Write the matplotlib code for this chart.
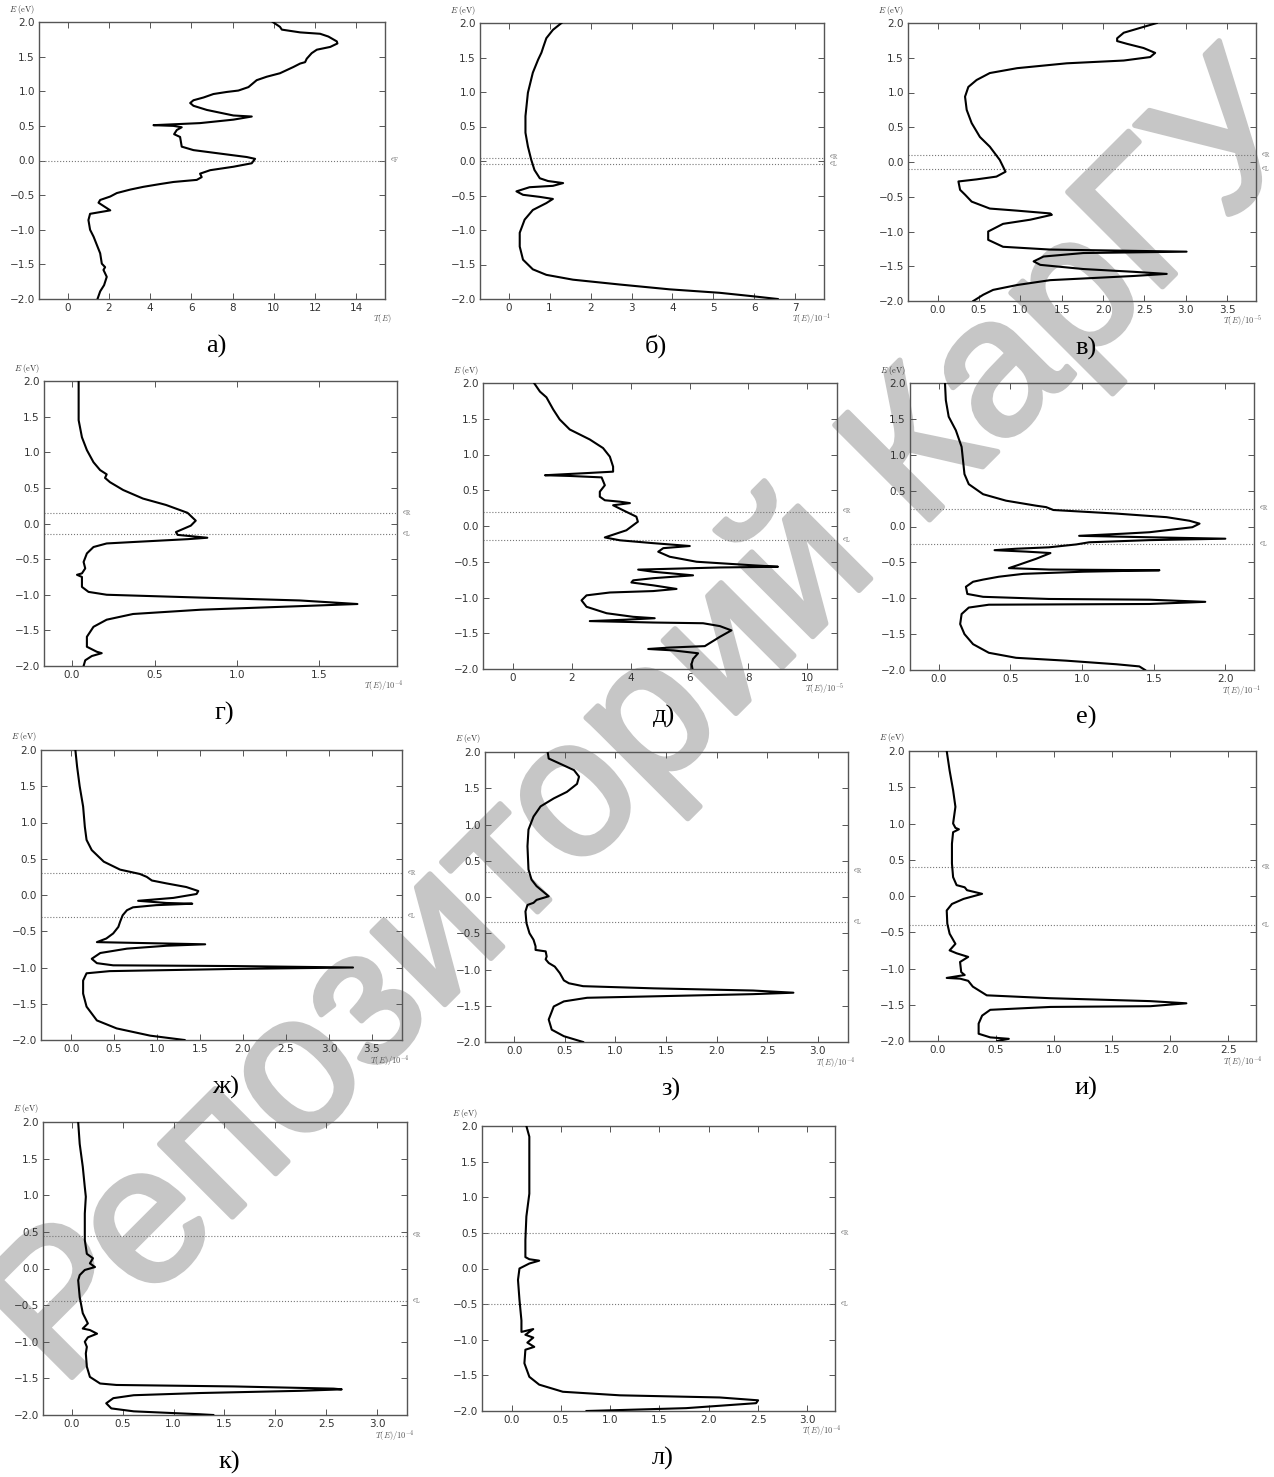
import matplotlib
matplotlib.use("Agg")
import matplotlib.pyplot as plt
import matplotlib.transforms as mtransforms
import matplotlib.patheffects as pe
from matplotlib.ticker import FuncFormatter
import numpy as np

W, H = 1274, 1477
plt.rcParams['mathtext.fontset'] = 'cm'
plt.rcParams['font.family'] = ['DejaVu Sans']

# ---- data: E (eV) and T(E) for each panel ----
# a)
e_a = [2.0, 1.93, 1.89, 1.85, 1.83, 1.79, 1.72, 1.69, 1.64, 1.60, 1.55, 1.47, 1.42, 1.40, 1.35,
       1.26, 1.21, 1.16, 1.06, 1.01, 0.99, 0.96, 0.91, 0.87, 0.83, 0.79, 0.73, 0.65, 0.635, 0.59,
       0.54, 0.51, 0.50, 0.48, 0.44, 0.38, 0.34, 0.27, 0.20, 0.15, 0.10, 0.05, 0.024, -0.04, -0.09,
       -0.14, -0.19, -0.24, -0.28, -0.31, -0.34, -0.38, -0.42, -0.47, -0.52, -0.57, -0.61, -0.72,
       -0.77, -0.86, -1.0, -1.1, -1.22, -1.34, -1.49, -1.54, -1.58, -1.68, -1.80, -1.89, -2.0]
t_a = [9.95, 10.3, 10.39, 11.28, 12.25, 12.65, 13.06, 13.09, 12.74, 12.09, 11.84, 11.6, 11.52, 11.28,
       10.95, 10.3, 9.66, 9.17, 8.77, 8.28, 7.72, 7.07, 6.59, 6.1, 5.94, 6.1, 6.75, 8.04, 8.93, 8.04,
       6.42, 4.16, 5.13, 5.53, 5.29, 5.16, 5.45, 5.49, 5.53, 6.1, 7.39, 8.69, 9.09, 8.93, 8.04,
       6.91, 6.42, 6.5, 6.26, 5.13, 4.48, 3.67, 3.03, 2.38, 2.06, 1.57, 1.49, 2.06,
       1.08, 1.0, 1.08, 1.25, 1.41, 1.57, 1.65, 1.81, 1.73, 1.89, 1.76, 1.57, 1.44]

# б)
e_b = [2.0, 1.90, 1.78, 1.66, 1.57, 1.47, 1.28, 0.99, 0.65, 0.41, 0.21, 0.02, -0.13, -0.25, -0.29,
       -0.32, -0.36, -0.38, -0.44, -0.49, -0.52, -0.55, -0.61, -0.71, -0.85, -1.04, -1.24, -1.43,
       -1.57, -1.65, -1.72, -1.79, -1.86, -1.91, -1.96, -2.0]
t_b = [1.29, 1.08, 0.92, 0.85, 0.80, 0.72, 0.59, 0.47, 0.41, 0.41, 0.47, 0.55, 0.63, 0.76, 0.96,
       1.33, 1.08, 0.51, 0.19, 0.35, 0.76, 1.08, 0.92, 0.59, 0.39, 0.27, 0.27, 0.35,
       0.59, 0.92, 1.57, 2.71, 3.93, 5.15, 5.96, 6.57]

# в)
e_v = [2.0, 1.93, 1.86, 1.78, 1.74, 1.70, 1.64, 1.57, 1.51, 1.46, 1.42, 1.35, 1.28, 1.18, 1.08, 0.94,
       0.75, 0.56, 0.36, 0.22, 0.03, -0.14, -0.21, -0.25, -0.28, -0.40, -0.47, -0.57, -0.67, -0.70,
       -0.74, -0.76, -0.83, -0.89, -1.0, -1.12, -1.22, -1.26, -1.29, -1.31, -1.36, -1.43, -1.48,
       -1.54, -1.58, -1.61, -1.64, -1.70, -1.77, -1.84, -1.91, -2.0]
t_v = [2.65, 2.45, 2.25, 2.17, 2.17, 2.29, 2.49, 2.63, 2.57, 2.25, 1.56, 0.96, 0.63, 0.47, 0.37, 0.33,
       0.35, 0.41, 0.51, 0.63, 0.75, 0.82, 0.71, 0.47, 0.25, 0.27, 0.33, 0.41, 0.63, 0.96,
       1.36, 1.38, 1.12, 0.79, 0.61, 0.61, 0.79, 1.36, 3.01, 1.76, 1.28, 1.16, 1.24,
       1.76, 2.37, 2.77, 2.37, 1.36, 0.96, 0.67, 0.55, 0.43]

# г)
e_g = [2.0, 1.73, 1.45, 1.21, 1.03, 0.86, 0.75, 0.69, 0.64, 0.58, 0.47, 0.35, 0.26, 0.15, 0.04, -0.03,
       -0.12, -0.16, -0.20, -0.22, -0.26, -0.28, -0.33, -0.42, -0.54, -0.63, -0.70, -0.72, -0.75,
       -0.89, -0.96, -1.0, -1.04, -1.08, -1.13, -1.16, -1.21, -1.27, -1.35, -1.45, -1.59, -1.73,
       -1.80, -1.82, -1.86, -1.92, -2.0]
t_g = [0.04, 0.04, 0.04, 0.06, 0.09, 0.13, 0.17, 0.21, 0.20, 0.23, 0.31, 0.43, 0.57, 0.70, 0.75, 0.72,
       0.63, 0.64, 0.82, 0.70, 0.37, 0.21, 0.13, 0.09, 0.07, 0.08, 0.06, 0.03, 0.06,
       0.06, 0.10, 0.21, 0.78, 1.38, 1.73, 1.38, 0.78, 0.37, 0.21, 0.13, 0.09, 0.09,
       0.15, 0.18, 0.12, 0.08, 0.07]

# д)
e_d = [2.0, 1.88, 1.80, 1.63, 1.49, 1.35, 1.21, 1.09, 0.97, 0.83, 0.76, 0.74, 0.71, 0.70, 0.68, 0.57,
       0.48, 0.41, 0.36, 0.34, 0.32, 0.29, 0.22, 0.13, 0.06, -0.06, -0.16, -0.20, -0.24, -0.28,
       -0.31, -0.36, -0.43, -0.50, -0.55, -0.57, -0.58, -0.61, -0.64, -0.69, -0.73, -0.76, -0.79,
       -0.83, -0.88, -0.91, -0.93, -0.97, -1.04, -1.13, -1.22, -1.27, -1.29, -1.31, -1.33, -1.35,
       -1.36, -1.40, -1.46, -1.55, -1.68, -1.70, -1.72, -1.74, -1.78, -1.86, -1.93, -2.0]
t_d = [0.73, 0.93, 1.15, 1.38, 1.60, 1.94, 2.62, 3.07, 3.30, 3.41, 3.41, 2.51, 1.10, 1.94, 3.02, 3.13,
       2.96, 2.96, 3.13, 3.64, 3.98, 3.41, 3.75, 4.20, 4.25, 3.86, 3.13, 3.64, 4.77, 6.01,
       5.11, 4.94, 5.33, 6.24, 8.16, 9.0, 7.03, 4.26, 4.77, 6.12, 4.77, 4.09, 4.03,
       4.77, 5.56, 4.77, 3.30, 2.51, 2.34, 2.51, 3.19, 4.09, 4.82, 3.86, 2.62, 4.77,
       6.46, 7.03, 7.42, 7.03, 6.52, 5.33, 4.60, 5.45, 6.29, 6.12, 6.07, 6.10]

# е)
e_e = [2.0, 1.76, 1.53, 1.34, 1.11, 0.92, 0.73, 0.59, 0.45, 0.36, 0.29, 0.27, 0.23, 0.18, 0.13, 0.08,
       0.04, -0.01, -0.08, -0.10, -0.13, -0.15, -0.17, -0.19, -0.22, -0.25, -0.29, -0.31, -0.33,
       -0.35, -0.37, -0.45, -0.54, -0.58, -0.60, -0.61, -0.63, -0.66, -0.70, -0.74, -0.77, -0.84,
       -0.94, -0.98, -1.01, -1.02, -1.05, -1.08, -1.09, -1.13, -1.22, -1.36, -1.50, -1.64, -1.76,
       -1.83, -1.87, -1.92, -1.95, -2.0]
t_e = [0.044, 0.05, 0.07, 0.12, 0.16, 0.17, 0.18, 0.21, 0.31, 0.47, 0.68, 0.75, 0.80, 1.24, 1.59, 1.75,
       1.82, 1.77, 1.47, 1.29, 0.98, 1.47, 2.0, 1.47, 1.05, 0.96, 0.77, 0.54, 0.39,
       0.61, 0.78, 0.68, 0.55, 0.49, 0.77, 1.54, 1.01, 0.59, 0.42, 0.31, 0.24, 0.19,
       0.20, 0.31, 0.77, 1.47, 1.86, 1.47, 0.35, 0.21, 0.16, 0.15, 0.18, 0.24, 0.35,
       0.54, 0.89, 1.24, 1.40, 1.44]

# ж)
e_zh = [2.0, 1.77, 1.50, 1.22, 0.94, 0.76, 0.62, 0.46, 0.35, 0.29, 0.25, 0.20, 0.16, 0.11, 0.055, 0.014,
        -0.04, -0.08, -0.11, -0.12, -0.14, -0.17, -0.21, -0.28, -0.37, -0.44, -0.53, -0.60, -0.65,
        -0.66, -0.68, -0.70, -0.74, -0.80, -0.88, -0.94, -0.97, -0.98, -1.0, -1.02, -1.05, -1.08,
        -1.18, -1.36, -1.54, -1.73, -1.84, -1.94, -2.0]
t_zh = [0.05, 0.07, 0.10, 0.14, 0.16, 0.18, 0.24, 0.38, 0.57, 0.80, 0.88, 0.94, 1.11, 1.34, 1.48, 1.46,
        1.19, 0.78, 1.11, 1.41, 0.99, 0.72, 0.65, 0.60, 0.57, 0.55, 0.49, 0.41, 0.30,
        0.72, 1.56, 1.11, 0.65, 0.34, 0.24, 0.30, 0.49, 1.89, 3.28, 1.89, 0.45, 0.18,
        0.14, 0.14, 0.18, 0.30, 0.53, 0.92, 1.32]

# з)
e_z = [2.0, 1.91, 1.84, 1.75, 1.66, 1.56, 1.45, 1.36, 1.25, 1.11, 0.93, 0.70, 0.38, 0.24, 0.15, 0.01,
       -0.04, -0.08, -0.11, -0.20, -0.36, -0.50, -0.59, -0.68, -0.73, -0.75, -0.82, -0.86, -0.91,
       -0.96, -1.05, -1.15, -1.19, -1.23, -1.26, -1.29, -1.32, -1.34, -1.37, -1.39, -1.44, -1.51,
       -1.69, -1.83, -1.92, -2.0]
t_z = [0.33, 0.34, 0.45, 0.59, 0.64, 0.62, 0.52, 0.39, 0.26, 0.19, 0.14, 0.13, 0.14, 0.17, 0.22, 0.34,
       0.22, 0.19, 0.13, 0.11, 0.12, 0.15, 0.19, 0.21, 0.21, 0.31, 0.32, 0.31, 0.34,
       0.40, 0.45, 0.49, 0.54, 0.68, 1.38, 2.36, 2.76, 2.36, 1.38, 0.72, 0.49, 0.39,
       0.34, 0.37, 0.49, 0.68]

# и)
e_i = [2.0, 1.73, 1.46, 1.23, 1.0, 0.94, 0.92, 0.88, 0.72, 0.45, 0.26, 0.15, 0.12, 0.08, 0.03, -0.04,
       -0.11, -0.20, -0.38, -0.52, -0.66, -0.75, -0.79, -0.84, -0.91, -1.05, -1.09, -1.13, -1.14,
       -1.17, -1.25, -1.30, -1.37, -1.41, -1.45, -1.48, -1.52, -1.53, -1.57, -1.65, -1.76, -1.90,
       -1.95, -1.97, -2.0]
t_i = [0.075, 0.10, 0.13, 0.15, 0.13, 0.15, 0.18, 0.13, 0.12, 0.12, 0.13, 0.16, 0.23, 0.25, 0.38, 0.22,
       0.12, 0.075, 0.08, 0.10, 0.15, 0.10, 0.16, 0.26, 0.19, 0.20, 0.23, 0.075, 0.19,
       0.26, 0.30, 0.35, 0.42, 0.97, 1.83, 2.14, 1.83, 0.97, 0.45, 0.38, 0.35, 0.35,
       0.45, 0.61, 0.51]

# к)
e_k = [2.0, 1.70, 1.39, 1.11, 0.98, 0.75, 0.39, 0.20, 0.14, 0.07, 0.02, -0.02, -0.09, -0.16, -0.39,
       -0.61, -0.75, -0.82, -0.84, -0.89, -0.94, -1.0, -1.07, -1.16, -1.34, -1.48, -1.57, -1.59,
       -1.61, -1.64, -1.65, -1.67, -1.70, -1.73, -1.77, -1.84, -1.91, -1.95, -1.99, -2.0]
t_k = [0.065, 0.08, 0.11, 0.13, 0.14, 0.13, 0.13, 0.15, 0.21, 0.18, 0.23, 0.13, 0.08, 0.065, 0.08,
       0.11, 0.16, 0.11, 0.18, 0.25, 0.16, 0.13, 0.15, 0.14, 0.15, 0.18, 0.28, 0.44,
       1.59, 2.57, 2.65, 2.24, 1.26, 0.61, 0.41, 0.34, 0.39, 0.61, 1.26, 1.39]

# л)
e_l = [2.0, 1.85, 1.43, 1.05, 0.73, 0.40, 0.16, 0.13, 0.11, 0.07, 0.0, -0.16, -0.44, -0.73, -0.89,
       -0.85, -0.93, -0.97, -1.04, -1.10, -1.14, -1.33, -1.52, -1.63, -1.73, -1.78, -1.81, -1.85,
       -1.89, -1.96, -2.0]
t_l = [0.15, 0.18, 0.18, 0.18, 0.15, 0.14, 0.14, 0.18, 0.28, 0.18, 0.08, 0.065, 0.08, 0.10, 0.10,
       0.22, 0.14, 0.22, 0.16, 0.23, 0.14, 0.13, 0.18, 0.28, 0.52, 1.10, 2.11, 2.50,
       2.48, 1.77, 0.76]

letters = ['а)', 'б)', 'в)', 'г)', 'д)', 'е)', 'ж)', 'з)', 'и)', 'к)', 'л)']
scales = [None, -1, -5, -4, -5, -1, -4, -4, -4, -4, -4]
half_bias = [0, 0.05, 0.1, 0.15, 0.2, 0.25, 0.3, 0.35, 0.4, 0.45, 0.5]
curves = [(t_a, e_a), (t_b, e_b), (t_v, e_v), (t_g, e_g), (t_d, e_d), (t_e, e_e),
          (t_zh, e_zh), (t_z, e_z), (t_i, e_i), (t_k, e_k), (t_l, e_l)]

# layout (pixel boxes: left, top, right, bottom), x limits, x ticks
boxes = [(39, 22, 385, 299), (480, 23, 824, 299), (908, 23, 1256, 301),
         (44, 381, 397, 666), (483, 383, 837, 669), (910, 383, 1254, 670),
         (41, 750, 402, 1040), (485, 752, 848, 1042), (909, 751, 1256, 1041),
         (43, 1122, 407, 1415), (482, 1126, 835, 1411)]
xlims = [(-1.4, 15.4), (-0.7, 7.7), (-0.36, 3.85), (-0.17, 1.97), (-1.0, 11.0), (-0.2, 2.2),
         (-0.35, 3.85), (-0.29, 3.3), (-0.25, 2.74), (-0.28, 3.29), (-0.30, 3.28)]
xticks = [np.arange(0, 15, 2), np.arange(0, 8, 1), np.arange(0, 3.6, 0.5), np.arange(0, 1.6, 0.5),
          np.arange(0, 11, 2), np.arange(0, 2.1, 0.5), np.arange(0, 3.6, 0.5), np.arange(0, 3.1, 0.5),
          np.arange(0, 2.6, 0.5), np.arange(0, 3.1, 0.5), np.arange(0, 3.1, 0.5)]
xfmt = ['%d', '%d', '%.1f', '%.1f', '%d', '%.1f', '%.1f', '%.1f', '%.1f', '%.1f', '%.1f']


def minus_fmt(f):
    return FuncFormatter(lambda x, pos: (f % x).replace('-', '\u2212'))


fig = plt.figure(figsize=(W / 100, H / 100), dpi=100)

for i in range(11):
    l, t, r, b = boxes[i]
    ax = fig.add_axes([l / W, 1 - b / H, (r - l) / W, (b - t) / H])
    ax.patch.set_alpha(0)
    T, E = curves[i]
    ax.plot(T, E, color='black', lw=1.5, zorder=3)
    ax.set_xlim(*xlims[i])
    ax.set_ylim(-2, 2)
    ax.set_xticks(xticks[i])
    ax.set_yticks(np.arange(-2, 2.01, 0.5))
    ax.xaxis.set_major_formatter(minus_fmt(xfmt[i]))
    ax.yaxis.set_major_formatter(minus_fmt('%.1f'))
    ax.tick_params(direction='in', top=True, right=True, length=4, width=0.7,
                   color='#555555', labelcolor='#333333', labelsize=7.5, pad=3)
    for s in ax.spines.values():
        s.set_color('#555555')
        s.set_linewidth(1.0)

    trans = mtransforms.blended_transform_factory(ax.transAxes, ax.transData)
    v = half_bias[i]
    if v == 0:
        ax.axhline(0, ls=':', color='#777777', lw=0.8)
        ax.text(1.015, 0, r'$\epsilon_\mathrm{F}$', transform=trans, fontsize=6,
                va='center', color='#555555')
    else:
        ax.axhline(v, ls=':', color='#777777', lw=0.8)
        ax.axhline(-v, ls=':', color='#777777', lw=0.8)
        ax.text(1.015, v, r'$\epsilon_\mathrm{R}$', transform=trans, fontsize=6,
                va='center', color='#555555')
        ax.text(1.015, -v, r'$\epsilon_\mathrm{L}$', transform=trans, fontsize=6,
                va='center', color='#555555')

    ax.text(-0.01, 1.045, r'$E\ (\mathrm{eV})$', transform=ax.transAxes, fontsize=6,
            ha='right', va='center', color='#333333')
    if scales[i] is None:
        xl = r'$T(E)$'
    else:
        xl = r'$T(E)/10^{%d}$' % scales[i]
    ax.text(1.02, -0.07, xl, transform=ax.transAxes, fontsize=6,
            ha='right', va='center', color='#555555')

    fig.text((l + r) / 2 / W + 0.003, 1 - (b + 47) / H, letters[i], fontsize=19,
             family='Liberation Serif', ha='center', va='center')

# repository watermark
fig.text(650 / W, 1 - 725 / H, 'Репозиторий КарГУ', rotation=45, fontsize=140,
         family='Liberation Sans', color='#c6c6c6', ha='center', va='center',
         rotation_mode='anchor', zorder=-1,
         path_effects=[pe.withStroke(linewidth=4, foreground='#c6c6c6')])

fig.savefig('out.png', dpi=100)
